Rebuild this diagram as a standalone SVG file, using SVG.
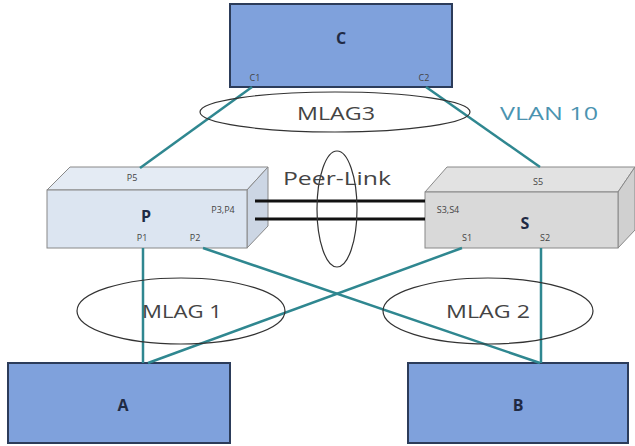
<svg xmlns="http://www.w3.org/2000/svg" width="635" height="446" viewBox="0 0 635 446">
<style>
.box{fill:#7fa1dc;stroke:#2c3c5a;stroke-width:2}
.lbl{font-family:"Open Sans","Liberation Sans",sans-serif;font-weight:bold;font-size:16px;fill:#1f2a44;text-anchor:middle}
.port{font-family:"Open Sans","Liberation Sans",sans-serif;font-size:9px;fill:#444;text-anchor:middle}
.big{font-family:"Open Sans","Liberation Sans",sans-serif;font-size:19px;fill:#444;text-anchor:middle}
.conn{stroke:#2f8790;stroke-width:2.5;fill:none}
.peer{stroke:#111;stroke-width:3;fill:none}
.ell{fill:none;stroke:#333;stroke-width:1.2}
</style>
<rect width="635" height="446" fill="#fff"/>
<g id="C">
<rect class="box" x="230" y="4" width="222" height="83"/>
<text class="lbl" x="341" y="44">C</text>
<text class="port" x="255" y="81" fill="#223">C1</text>
<text class="port" x="424" y="81">C2</text>
</g>
<g id="P">
<polygon points="47,190 70,167 268,167 247,190" fill="#e4ebf4" stroke="#888" stroke-width="1"/>
<polygon points="247,190 268,167 268,226 247,248" fill="#ccd6e4" stroke="#888" stroke-width="1"/>
<rect x="47" y="190" width="200" height="58" fill="#dce5f1" stroke="#888" stroke-width="1"/>
<text class="port" x="132" y="181">P5</text>
<text class="lbl" x="146" y="222" font-size="14">P</text>
<text class="port" x="142" y="241">P1</text>
<text class="port" x="195" y="241">P2</text>
<text class="port" x="223" y="213">P3,P4</text>
</g>
<g id="S">
<polygon points="425,192 447,167 635,167 618,192" fill="#e2e2e2" stroke="#888" stroke-width="1"/>
<polygon points="618,192 635,167 635,230 618,248" fill="#d0d0d0" stroke="#888" stroke-width="1"/>
<rect x="425" y="192" width="193" height="56" fill="#d9d9d9" stroke="#888" stroke-width="1"/>
<text class="port" x="538" y="185">S5</text>
<text class="lbl" x="525" y="229" font-size="14">S</text>
<text class="port" x="467" y="241">S1</text>
<text class="port" x="545" y="241">S2</text>
<text class="port" x="448" y="213">S3,S4</text>
</g>
<g id="A">
<rect class="box" x="8" y="363" width="222" height="80"/>
<text class="lbl" x="123" y="411">A</text>
</g>
<g id="B">
<rect class="box" x="408" y="363" width="220" height="80"/>
<text class="lbl" x="518" y="411">B</text>
</g>
<g id="connectors">
<line class="conn" x1="252" y1="87" x2="140" y2="168"/>
<line class="conn" x1="426" y1="87" x2="540" y2="167"/>
<line class="conn" x1="143" y1="248" x2="143" y2="363"/>
<line class="conn" x1="203" y1="248" x2="540" y2="363"/>
<line class="conn" x1="462" y1="248" x2="148" y2="363"/>
<line class="conn" x1="541" y1="248" x2="541" y2="363"/>
<line class="peer" x1="255" y1="201" x2="425" y2="201"/>
<line class="peer" x1="255" y1="219" x2="425" y2="219"/>
</g>
<g id="MLAG3">
<ellipse class="ell" cx="335" cy="112" rx="135" ry="20"/>
<text class="big" x="336" y="120" textLength="78" lengthAdjust="spacingAndGlyphs">MLAG3</text>
</g>
<g id="PeerLink">
<ellipse class="ell" cx="337" cy="209" rx="20" ry="58"/>
<text class="big" x="337" y="185" textLength="108" lengthAdjust="spacingAndGlyphs">Peer-Link</text>
</g>
<g id="MLAG1">
<ellipse class="ell" cx="181" cy="311" rx="104" ry="33"/>
<text class="big" x="182" y="318" textLength="80" lengthAdjust="spacingAndGlyphs">MLAG 1</text>
</g>
<g id="MLAG2">
<ellipse class="ell" cx="488" cy="311" rx="105" ry="33"/>
<text class="big" x="488" y="318" textLength="84" lengthAdjust="spacingAndGlyphs">MLAG 2</text>
</g>
<text x="549" y="120" font-family="Open Sans, Liberation Sans, sans-serif" font-size="19" fill="#4b93b0" text-anchor="middle" textLength="98" lengthAdjust="spacingAndGlyphs">VLAN 10</text>
</svg>
